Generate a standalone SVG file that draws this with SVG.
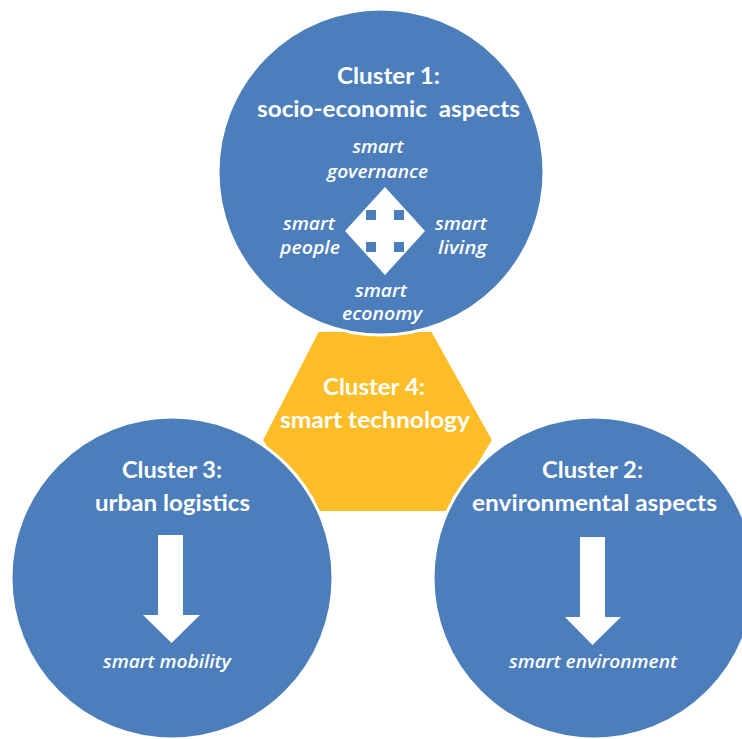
<svg xmlns="http://www.w3.org/2000/svg" width="742" height="739" viewBox="0 0 742 739">
<style>
.bg{fill:#ffffff}
.circ{fill:#4C7EBC;stroke:#ffffff;stroke-width:3}
.hex{fill:#FCBD27;stroke:#ffffff;stroke-width:2}
.title{font-family:Lato,"Liberation Sans",sans-serif;font-weight:700;font-size:23.5px;fill:#ffffff;text-anchor:middle}
.lab{font-family:"Open Sans","Liberation Sans",sans-serif;font-style:italic;font-weight:600;font-size:18.5px;fill:#ffffff;text-anchor:middle}
.arrow{fill:#ffffff}
.notch{fill:#4C7EBC}
</style>
<rect class="bg" x="0" y="0" width="742" height="739"/>
<g id="cluster4">
<polygon class="hex" points="318,331 432,331 493,440 450,512 305,512 262,440"/>
<text class="title" x="374" y="395" textLength="102" lengthAdjust="spacingAndGlyphs">Cluster 4:</text>
<text class="title" x="375" y="428" textLength="190" lengthAdjust="spacingAndGlyphs">smart technology</text>
</g>
<g id="cluster1">
<circle class="circ" cx="381" cy="172" r="163"/>
<text class="title" x="388.5" y="84" textLength="103" lengthAdjust="spacingAndGlyphs">Cluster 1:</text>
<text class="title" x="388.5" y="117" textLength="263" lengthAdjust="spacingAndGlyphs" xml:space="preserve">socio-economic  aspects</text>
<text class="lab" x="378" y="153" textLength="51" lengthAdjust="spacingAndGlyphs">smart</text>
<text class="lab" x="377.5" y="178" textLength="101" lengthAdjust="spacingAndGlyphs">governance</text>
<text class="lab" x="309" y="230" textLength="52" lengthAdjust="spacingAndGlyphs">smart</text>
<text class="lab" x="310" y="254" textLength="60" lengthAdjust="spacingAndGlyphs">people</text>
<text class="lab" x="461" y="230" textLength="52" lengthAdjust="spacingAndGlyphs">smart</text>
<text class="lab" x="462.5" y="254" textLength="49" lengthAdjust="spacingAndGlyphs">living</text>
<text class="lab" x="381" y="297" textLength="52" lengthAdjust="spacingAndGlyphs">smart</text>
<text class="lab" x="382" y="320" textLength="80" lengthAdjust="spacingAndGlyphs">economy</text>
</g>
<g id="cluster3">
<circle class="circ" cx="172" cy="578" r="161"/>
<text class="title" x="172" y="478" textLength="100" lengthAdjust="spacingAndGlyphs">Cluster 3:</text>
<text class="title" x="172.5" y="511" textLength="155" lengthAdjust="spacingAndGlyphs">urban logistics</text>
<text class="lab" x="167" y="668" textLength="128" lengthAdjust="spacingAndGlyphs">smart mobility</text>
</g>
<g id="cluster2">
<circle class="circ" cx="594" cy="578" r="161"/>
<text class="title" x="592.5" y="478" textLength="101" lengthAdjust="spacingAndGlyphs">Cluster 2:</text>
<text class="title" x="594.5" y="511" textLength="245" lengthAdjust="spacingAndGlyphs">environmental aspects</text>
<text class="lab" x="593" y="668" textLength="168" lengthAdjust="spacingAndGlyphs">smart environment</text>
</g>
<g id="connectors">
<g id="quad-arrow" transform="translate(385,231)">
<polygon class="arrow" points="0,-44 40,0 0,44 -40,0"/>
<rect class="notch" x="-19" y="-21" width="10" height="10"/>
<rect class="notch" x="9" y="-21" width="10" height="10"/>
<rect class="notch" x="-19" y="11" width="10" height="10"/>
<rect class="notch" x="9" y="11" width="10" height="10"/>
</g>
<polygon id="arrow-mobility" class="arrow" points="158,535 183,535 183,615 200,615 171.5,643 143,615 158,615"/>
<polygon id="arrow-environment" class="arrow" points="580,537 605,537 605,617 621,617 592.5,645 565,617 580,617"/>
</g>
</svg>
